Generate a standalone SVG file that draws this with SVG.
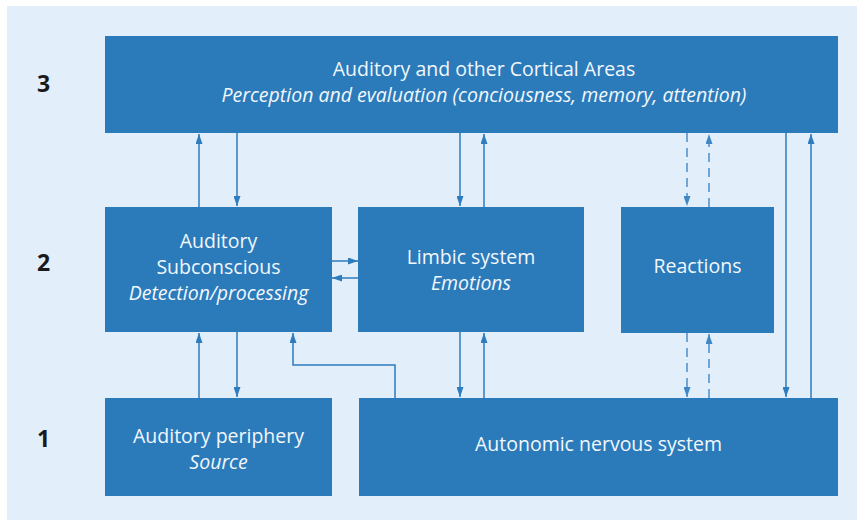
<svg xmlns="http://www.w3.org/2000/svg" width="857" height="520" viewBox="0 0 857 520">
<defs>
<style>
.box{fill:#2B7BBB}
.t{font-family:"Open Sans","Liberation Sans",sans-serif;font-size:19.5px;fill:#F2F7FC;text-anchor:middle}
.i{font-style:italic}
.lvl{font-family:"Open Sans","Liberation Sans",sans-serif;font-size:23px;font-weight:bold;fill:#1a1a1a;text-anchor:middle}
.c{fill:none;stroke:#2E7BBD;stroke-width:1.5}
.d{stroke:#4A8FCC;stroke-dasharray:9 6}
</style>
<marker id="ah" markerUnits="userSpaceOnUse" markerWidth="10" markerHeight="7" refX="10" refY="3.5" orient="auto">
<path d="M0,0 L10,3.5 L0,7 z" fill="#2E7BBD"/>
</marker>
<marker id="ahd" markerUnits="userSpaceOnUse" markerWidth="10" markerHeight="7" refX="10" refY="3.5" orient="auto">
<path d="M0,0 L10,3.5 L0,7 z" fill="#3F88C8"/>
</marker>
</defs>
<rect x="0" y="0" width="857" height="520" fill="#ffffff"/>
<rect x="7" y="6" width="850" height="514" fill="#E2EEF9"/>

<g id="levels">
<text class="lvl" x="43.5" y="92">3</text>
<text class="lvl" x="43.5" y="271">2</text>
<text class="lvl" x="43.5" y="447">1</text>
</g>

<g id="cortical">
<rect class="box" x="105" y="36" width="733" height="97"/>
<text class="t" x="484" y="76">Auditory and other Cortical Areas</text>
<text class="t i" x="484" y="102">Perception and evaluation (conciousness, memory, attention)</text>
</g>

<g id="subconscious">
<rect class="box" x="105" y="207" width="227" height="125"/>
<text class="t" x="218.5" y="248">Auditory</text>
<text class="t" x="218.5" y="274">Subconscious</text>
<text class="t i" x="218.5" y="300">Detection/processing</text>
</g>

<g id="limbic">
<rect class="box" x="358" y="207" width="226" height="125"/>
<text class="t" x="471" y="264">Limbic system</text>
<text class="t i" x="471" y="290">Emotions</text>
</g>

<g id="reactions">
<rect class="box" x="621" y="207" width="153" height="126"/>
<text class="t" x="697.5" y="273">Reactions</text>
</g>

<g id="periphery">
<rect class="box" x="105" y="398" width="227" height="98"/>
<text class="t" x="218.5" y="443">Auditory periphery</text>
<text class="t i" x="218.5" y="469">Source</text>
</g>

<g id="autonomic">
<rect class="box" x="359" y="398" width="479" height="98"/>
<text class="t" x="598.5" y="451">Autonomic nervous system</text>
</g>

<g id="connectors">
<line class="c" x1="199" y1="207" x2="199" y2="134" marker-end="url(#ah)"/>
<line class="c" x1="237" y1="133" x2="237" y2="206" marker-end="url(#ah)"/>
<line class="c" x1="199" y1="398" x2="199" y2="333" marker-end="url(#ah)"/>
<line class="c" x1="237" y1="332" x2="237" y2="397" marker-end="url(#ah)"/>
<line class="c" x1="332" y1="261" x2="358" y2="261" marker-end="url(#ah)"/>
<line class="c" x1="358" y1="278" x2="332" y2="278" marker-end="url(#ah)"/>
<polyline class="c" points="395,398 395,365 293,365 293,333" marker-end="url(#ah)"/>
<line class="c" x1="460" y1="133" x2="460" y2="206" marker-end="url(#ah)"/>
<line class="c" x1="484" y1="207" x2="484" y2="134" marker-end="url(#ah)"/>
<line class="c" x1="460" y1="332" x2="460" y2="397" marker-end="url(#ah)"/>
<line class="c" x1="484" y1="398" x2="484" y2="333" marker-end="url(#ah)"/>
<line class="c d" x1="687" y1="133" x2="687" y2="206" marker-end="url(#ahd)"/>
<line class="c d" x1="709" y1="207" x2="709" y2="134" marker-end="url(#ahd)"/>
<line class="c d" x1="687" y1="333" x2="687" y2="397" marker-end="url(#ahd)"/>
<line class="c d" x1="709" y1="398" x2="709" y2="334" marker-end="url(#ahd)"/>
<line class="c" x1="786" y1="133" x2="786" y2="397" marker-end="url(#ah)"/>
<line class="c" x1="811" y1="398" x2="811" y2="134" marker-end="url(#ah)"/>
</g>
</svg>
